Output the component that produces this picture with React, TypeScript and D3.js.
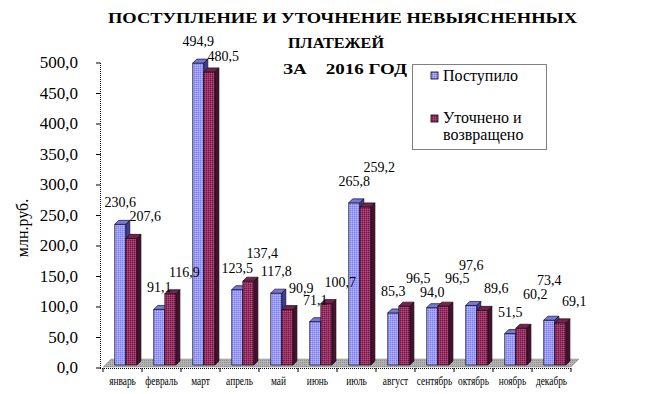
import React from 'react';
import * as d3 from 'd3';

// monthly data, mln rub
const months = ['январь', 'февраль', 'март', 'апрель', 'май', 'июнь', 'июль', 'август', 'сентябрь', 'октябрь', 'ноябрь', 'декабрь'];
const received = [230.6, 91.1, 494.9, 123.5, 117.8, 71.1, 265.8, 85.3, 94.0, 97.6, 51.5, 73.4];
const clarified = [207.6, 116.9, 480.5, 137.4, 90.9, 100.7, 259.2, 96.5, 96.5, 89.6, 60.2, 69.1];
const yTicks = [0, 50, 100, 150, 200, 250, 300, 350, 400, 450, 500];
const seriesNames = ['Поступило', 'Уточнено и возвращено'];
const titleLines = ['ПОСТУПЛЕНИЕ И УТОЧНЕНИЕ НЕВЫЯСНЕННЫХ', 'ПЛАТЕЖЕЙ', 'ЗА    2016 ГОД'];

const W = 646, H = 394;
const serif = '"Liberation Serif", "Times New Roman", serif';
const fmt = (v: number) => v.toFixed(1).replace('.', ',');

const App = () => {
    const x = d3.scaleBand<string>().domain(months).range([103, 571]);
    const y = d3.scaleLinear().domain([0, 500]).range([368, 63]);
    const bw = x.bandwidth();
    const barW = bw * 0.285;
    const barOff = bw * 0.3;
    const dx = 4, dy = -4;     // bar depth
    const fdx = 8, fdy = -8;   // floor depth
    const lift = 3;
    const labelFs = 14;

    const series = [
        { name: seriesNames[0], values: received, front: 'url(#pBlue)', top: '#7676dc', side: '#3d3d9c', labelDx: 0 },
        { name: seriesNames[1], values: clarified, front: 'url(#pRed)', top: '#7a2050', side: '#4a0f2e', labelDx: 14 },
    ];

    const bar = (x0: number, v: number, s: any, key: string) => {
        const yt = y(v) - lift, yb = y(0) - lift;
        const x1 = x0 + barW;
        return (
            <g key={key} stroke="#111" strokeWidth={0.7} strokeLinejoin="round">
                <rect x={x0} y={yt} width={barW} height={yb - yt} fill={s.front} />
                <polygon points={`${x0},${yt} ${x0 + dx},${yt + dy} ${x1 + dx},${yt + dy} ${x1},${yt}`} fill={s.top} />
                <polygon points={`${x1},${yt} ${x1 + dx},${yt + dy} ${x1 + dx},${yb + dy} ${x1},${yb}`} fill={s.side} />
            </g>
        );
    };

    // data labels above bars, nudged when they collide with a neighbour
    const labels: { key: string, x: number, y: number, w: number, text: string }[] = [];
    months.forEach((m, i) => series.forEach((s, j) => {
        const text = fmt(s.values[i]);
        labels.push({
            key: m + 'l' + j,
            x: (x(m) as number) + barOff + j * barW + barW / 2 + s.labelDx,
            y: y(s.values[i]) - 20,
            w: (text.length - 0.5) * 0.5 * labelFs,
            text,
        });
    }));
    labels.sort((a, b) => a.x - b.x);
    const placed: typeof labels = [];
    const nudges = [0, -6, 6, -12, -18, -24, -30];
    labels.forEach(l => {
        const base = l.y;
        const hits = (yy: number) => placed.some(p => Math.abs(p.x - l.x) < (p.w + l.w) / 2 + 1 && Math.abs(p.y - yy) < labelFs - 2);
        const n = nudges.find(d => !hits(base + d));
        l.y = base + (n === undefined ? 0 : n);
        placed.push(l);
    });

    const x0 = x.range()[0], x1 = x.range()[1];
    const floorY = y(0) - 1;

    return (
        <svg width={W} height={H} style={{ position: 'absolute', left: 0, top: 0, background: '#fff' }} fontFamily={serif}>
            <defs>
                <pattern id="pBlue" width={2} height={2} patternUnits="userSpaceOnUse">
                    <rect width={2} height={2} fill="#9c9cff" />
                    <rect width={1} height={1} fill="#7c7ce6" />
                    <rect x={1} y={1} width={1} height={1} fill="#b4b4ff" />
                </pattern>
                <pattern id="pRed" width={2} height={2} patternUnits="userSpaceOnUse">
                    <rect width={2} height={2} fill="#993366" />
                    <rect width={1} height={1} fill="#6c1842" />
                    <rect x={1} y={1} width={1} height={1} fill="#b04a7c" />
                </pattern>
                <pattern id="pFloor" width={2} height={2} patternUnits="userSpaceOnUse">
                    <rect width={2} height={2} fill="#b4b4b4" />
                    <rect width={1} height={1} fill="#8c8c8c" />
                </pattern>
            </defs>

            {/* title */}
            <g fontWeight="bold" fontSize={15} fill="#000">
                <text x={108} y={23} textLength={469} lengthAdjust="spacingAndGlyphs">{titleLines[0]}</text>
                <text x={288} y={48} textLength={96} lengthAdjust="spacingAndGlyphs">{titleLines[1]}</text>
                <text x={283} y={74} textLength={124} lengthAdjust="spacingAndGlyphs" xmlSpace="preserve" style={{ whiteSpace: 'pre' }}>{titleLines[2]}</text>
            </g>

            {/* floor */}
            <polygon
                points={`${x0},${floorY} ${x1},${floorY} ${x1 + fdx},${floorY + fdy} ${x0 + fdx},${floorY + fdy}`}
                fill="url(#pFloor)" stroke="#888" strokeWidth={0.5} />

            {/* y axis */}
            <line x1={100.5} x2={100.5} y1={y(500)} y2={y(0)} stroke="#000" strokeDasharray="1,1" />
            {yTicks.map(t => (
                <g key={t}>
                    <line x1={96} x2={100.5} y1={y(t)} y2={y(t)} stroke="#000" />
                    <text x={78} y={y(t) + 5} fontSize={17} textAnchor="end">{fmt(t)}</text>
                </g>
            ))}
            <text transform="translate(28,228) rotate(-90)" fontSize={16} textAnchor="middle">млн.руб.</text>

            {/* x axis */}
            <line x1={100} x2={x1} y1={y(0) + 0.5} y2={y(0) + 0.5} stroke="#000" strokeDasharray="1,1" />
            {months.concat(['']).map((m, i) => {
                const xt = x0 + i * bw;
                return <line key={'t' + i} x1={xt} x2={xt} y1={y(0)} y2={y(0) + 4} stroke="#000" />;
            })}
            {months.map(m => (
                <text key={m} transform={`translate(${(x(m) as number) + bw / 2},385) scale(0.72,1)`}
                    fontSize={13} textAnchor="middle">{m}</text>
            ))}

            {/* bars */}
            {months.map((m, i) => (
                <g key={m}>
                    {series.map((s, j) => bar((x(m) as number) + barOff + j * barW, s.values[i], s, m + j))}
                </g>
            ))}

            {/* data labels */}
            {placed.map(l => (
                <text key={l.key} x={l.x} y={l.y} fontSize={labelFs} textAnchor="middle">{l.text}</text>
            ))}

            {/* legend */}
            <g>
                <rect x={412.5} y={64.5} width={134} height={85} fill="#fff" stroke="#000" strokeDasharray="1,1" />
                <rect x={431} y={72} width={7} height={7} fill="url(#pBlue)" stroke="#000" strokeWidth={0.8} />
                <text x={443} y={81} fontSize={16}>{seriesNames[0]}</text>
                <rect x={431} y={115} width={7} height={7} fill="url(#pRed)" stroke="#000" strokeWidth={0.8} />
                <text x={443} y={123} fontSize={16}>Уточнено и</text>
                <text x={443} y={140} fontSize={16}>возвращено</text>
            </g>
        </svg>
    );
};

export default App;
